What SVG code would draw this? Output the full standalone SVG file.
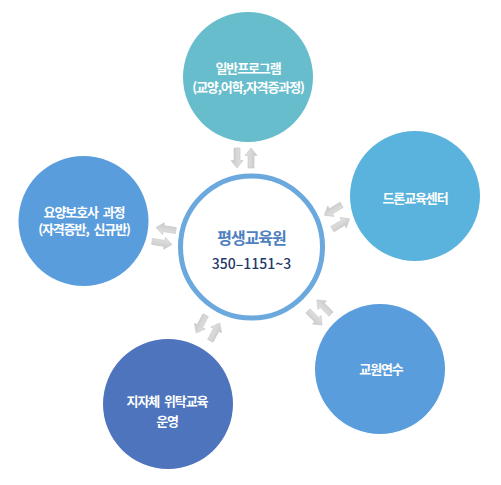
<svg xmlns="http://www.w3.org/2000/svg" width="501" height="485" viewBox="0 0 501 485">
  <style>
    .lbl { font-family: "Noto Sans CJK KR", "Noto Sans", sans-serif; font-size: 13px; font-weight: bold; fill: #ffffff; text-anchor: middle; letter-spacing: -1.1px; word-spacing: 3px; }
    .arrow { fill: url(#ag); stroke: #c4c4c4; stroke-width: 0.6; }
  </style>
  <defs>
    <linearGradient id="ag" x1="0" y1="0" x2="0" y2="1">
      <stop offset="0" stop-color="#e4e4e4"/>
      <stop offset="1" stop-color="#c9c9c9"/>
    </linearGradient>
    <path id="arr" d="M-10,-3 L2.5,-3 L2.5,-6 L10,0 L2.5,6 L2.5,3 L-10,3 Z"/>
  </defs>
  <rect width="501" height="485" fill="#ffffff"/>

  <g id="connectors">
    <use href="#arr" class="arrow" transform="translate(237,158) rotate(90)"/>
    <use href="#arr" class="arrow" transform="translate(251,158) rotate(-90)"/>
    <use href="#arr" class="arrow" transform="translate(166,229) rotate(189)"/>
    <use href="#arr" class="arrow" transform="translate(162,243) rotate(9)"/>
    <use href="#arr" class="arrow" transform="translate(333,210) rotate(149)"/>
    <use href="#arr" class="arrow" transform="translate(341,224) rotate(-31)"/>
    <use href="#arr" class="arrow" transform="translate(324,307) rotate(-135)"/>
    <use href="#arr" class="arrow" transform="translate(315,318) rotate(45)"/>
    <use href="#arr" class="arrow" transform="translate(201,324) rotate(118)"/>
    <use href="#arr" class="arrow" transform="translate(215,332) rotate(-62)"/>
  </g>

  <g id="center">
    <circle cx="251.5" cy="247" r="71" fill="#ffffff" stroke="#6aa8dd" stroke-width="5"/>
    <text x="251.5" y="244" font-family="Noto Sans CJK KR, Noto Sans, sans-serif" font-size="16" font-weight="bold" fill="#4f7fbf" text-anchor="middle" letter-spacing="-1">평생교육원</text>
    <text x="251.5" y="269" font-family="Noto Sans CJK KR, Noto Sans, sans-serif" font-size="14" font-weight="500" fill="#1f3a68" text-anchor="middle">350–1151~3</text>
  </g>

  <g id="general">
    <circle cx="248" cy="77" r="65" fill="#67bdcc"/>
    <text class="lbl" x="248" y="73">일반프로그램</text>
    <text class="lbl" x="248" y="92">(교양,어학,자격증과정)</text>
  </g>

  <g id="drone">
    <circle cx="415" cy="196" r="65" fill="#5ab3dc"/>
    <text class="lbl" x="415" y="203">드론교육센터</text>
  </g>

  <g id="teacher">
    <circle cx="380" cy="369" r="65" fill="#5a9ddc"/>
    <text class="lbl" x="381" y="374" font-size="14">교원연수</text>
  </g>

  <g id="local">
    <circle cx="168" cy="404" r="65" fill="#4d74bc"/>
    <text class="lbl" x="167" y="406">지자체 위탁교육</text>
    <text class="lbl" x="167" y="426">운영</text>
  </g>

  <g id="care">
    <circle cx="83.5" cy="221" r="65" fill="#5a9ddc"/>
    <text class="lbl" x="84" y="216.5">요양보호사 과정</text>
    <text class="lbl" x="84" y="234">(자격증반, 신규반)</text>
  </g>
</svg>
